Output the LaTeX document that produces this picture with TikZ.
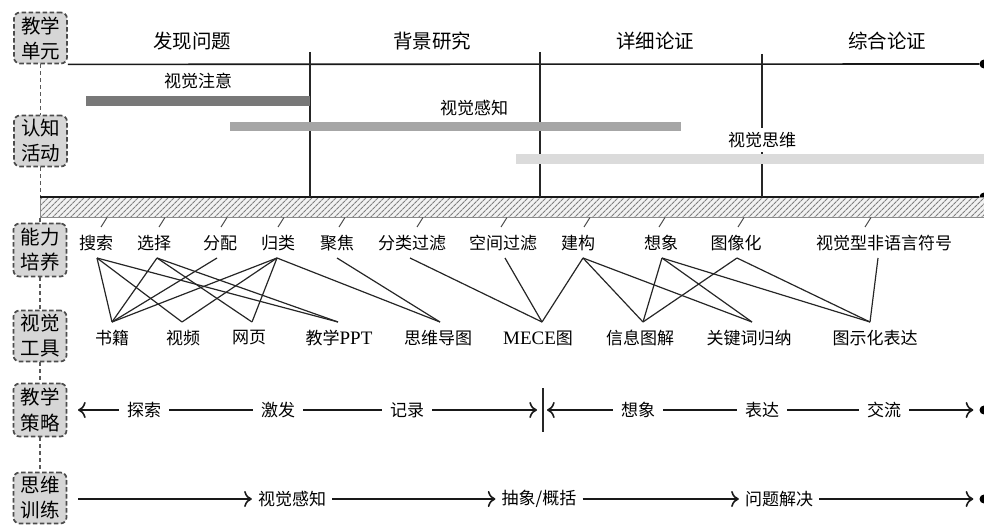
\documentclass[tikz,border=0pt]{standalone}
\usepackage{fontspec}
\setmainfont{Liberation Serif}
\newfontfamily\cjk{Noto Sans CJK SC}
\newcommand\latn[1]{{\rmfamily\fontsize{19}{20}\selectfont #1}}
\usetikzlibrary{arrows.meta,patterns.meta}
\begin{document}
\begin{tikzpicture}[x=1pt,y=-1pt,
  side/.style={draw=black!70, dash pattern=on 4.5pt off 2.5pt, line width=1.7pt, rounded corners=6pt, fill=black!16, minimum width=53pt, minimum height=51pt, inner sep=0pt, align=center, font=\cjk\fontsize{19.5}{25}\selectfont},
  vdash/.style={draw=black!65, dash pattern=on 4pt off 3pt, line width=1.8pt},
  phase/.style={font=\cjk\fontsize{19.5}{22}\selectfont, inner sep=0pt},
  lbl/.style={font=\cjk\fontsize{17}{20}\selectfont, inner sep=0pt},
  barlbl/.style={lbl, fill=white, inner xsep=2pt, inner ysep=4pt},
  mainline/.style={line width=1.6pt, draw=black!90},
  vline/.style={line width=1.3pt, draw=black!85},
  link/.style={line width=1.2pt, draw=black!85},
  tickln/.style={line width=1pt, draw=black!70},
  seg/.style={lbl, inner xsep=8pt, inner ysep=2pt},
  useg/.style={lbl, inner xsep=6pt, inner ysep=2pt},
  arr/.style={line width=1.6pt, draw=black!90, -{To[scale=1.5]}},
  dot/.style={fill=black, circle, inner sep=0pt, minimum size=9pt}
]
\useasboundingbox (0,0) rectangle (984,526);

% side boxes
\node[side] (b1) at (40.5,38) {教学\\单元};
\node[side] (b2) at (40.5,141) {认知\\活动};
\node[side, minimum height=53pt] (b3) at (40,250) {能力\\培养};
\node[side] (b4) at (40,336) {视觉\\工具};
\node[side, minimum height=53pt] (b5) at (40,410) {教学\\策略};
\node[side] (b6) at (40,498) {思维\\训练};

% dots at right edge
\node[dot] (d1) at (984,64) {};
\node[dot] (d2) at (984,197) {};
\node[dot] (d3) at (984,410) {};
\node[dot] (d4) at (984,499) {};

% hatched bar
\node[draw=black!45, line width=0.8pt, preaction={fill=black!5},
      pattern={Lines[angle=45,distance=4pt,line width=1.2pt]}, pattern color=black!50,
      minimum width=944pt, minimum height=20pt, inner sep=0pt, anchor=north west] (hatch) at (40,197) {};

% dashed connectors of the side boxes
\draw[vdash] (b1.south) -- (b2.north);
\draw[vdash] (b2.south) -- (b2.south |- hatch.north);
\draw[vdash] (b3.north |- hatch.south) -- (b3.north);
\draw[vdash] (b3.south) -- (b4.north);
\draw[vdash] (b4.south) -- (b5.north);
\draw[vdash] (b5.south) -- (b6.north);

% top axis
\draw[mainline] (b1.south east) -- (d1);
\draw[mainline] (hatch.north west) -- (d2);

% phase separators
\draw[vline] (310,52) -- (310,197);
\draw[vline] (540,52) -- (540,197);
\draw[vline] (762,54) -- (762,197);

% phase labels
\node[phase] (p1) at (192,41) {发现问题};
\node[phase] (p2) at (432,41) {背景研究};
\node[phase] (p3) at (655,41) {详细论证};
\node[phase] (p4) at (887,41) {综合论证};

% cognitive bars
\fill[black!53] (86,96) rectangle (310,106);
\fill[black!35] (230,122) rectangle (681,131);
\fill[black!14] (516,154) rectangle (984,164);
\node[barlbl] (l1) at (198,81) {视觉注意};
\node[barlbl] (l2) at (474,108) {视觉感知};
\node[barlbl] (l3) at (762,140) {视觉思维};

% abilities
\foreach \nm/\x/\tx/\t in {a1/96/107/搜索, a2/154/165/选择, a3/220/227/分配, a4/278/284/归类,
   a5/337/345/聚焦, a6/412/423/分类过滤, a7/503/507/空间过滤, a8/578/590/建构,
   a9/661/665/想象, a10/736/744/图像化, a11/884/871/视觉型非语言符号}{
  \node[lbl] (\nm) at (\x,243) {\t};
  \draw[tickln] (\tx,217.5) -- (\tx-6,227);
}
\foreach \nm/\x in {a1/97, a2/157, a3/217, a4/277, a5/337, a6/410, a7/505, a8/583, a9/662, a10/737, a11/878}
  \coordinate (\nm v) at (\x,258);

% tools
\node[lbl] (t1) at (112,338) {书籍};
\node[lbl] (t2) at (183,338) {视频};
\node[lbl] (t3) at (249,338) {网页};
\node[lbl] (t4) at (339,338) {教学\latn{PPT}};
\node[lbl] (t5) at (438,338) {思维导图};
\node[lbl] (t6) at (538,338) {\latn{MECE}图};
\node[lbl] (t7) at (640,338) {信息图解};
\node[lbl] (t8) at (749,338) {关键词归纳};
\node[lbl] (t9) at (875,338) {图示化表达};
\foreach \nm/\x in {t1/112, t2/182, t3/252, t4/338, t5/440, t6/542, t7/643, t8/752, t9/870}
  \coordinate (\nm v) at (\x,322);

% links abilities -> tools
\foreach \a/\b in {a1/t1, a1/t2, a1/t4, a2/t1, a2/t3, a2/t4, a3/t1, a4/t1, a4/t2, a4/t3, a4/t5,
   a5/t5, a6/t6, a7/t6, a8/t6, a8/t7, a8/t8, a9/t7, a9/t8, a9/t9, a10/t7, a10/t9, a11/t9}
  \draw[link] (\a v) -- (\b v);

% teaching strategy row
\coordinate (sL) at (78,410);
\coordinate (sM1) at (537,410);
\coordinate (sM2) at (547,410);
\coordinate (sepT) at (543,388);
\coordinate (sepB) at (543,432);
\node[seg] (s1) at (144,410) {探索};
\node[seg] (s2) at (278,410) {激发};
\node[seg] (s3) at (407,410) {记录};
\node[seg] (s4) at (638,410) {想象};
\node[seg] (s5) at (762,410) {表达};
\node[seg] (s6) at (884,410) {交流};
\draw[arr] (s1) -- (sL);
\draw[mainline] (s1) -- (s2);
\draw[mainline] (s2) -- (s3);
\draw[arr] (s3) -- (sM1);
\draw[vline] (sepT) -- (sepB);
\draw[arr] (s4) -- (sM2);
\draw[mainline] (s4) -- (s5);
\draw[mainline] (s5) -- (s6);
\draw[arr, shorten >=6pt] (s6) -- (d3);

% thinking training row
\coordinate (uL) at (78,499);
\node[useg] (u1) at (292,499) {视觉感知};
\node[useg] (u2) at (539,499) {抽象/概括};
\node[useg] (u3) at (779,499) {问题解决};
\draw[arr] (uL) -- (u1);
\draw[arr] (u1) -- (u2);
\draw[arr] (u2) -- (u3);
\draw[arr, shorten >=6pt] (u3) -- (d4);
\end{tikzpicture}
\end{document}
